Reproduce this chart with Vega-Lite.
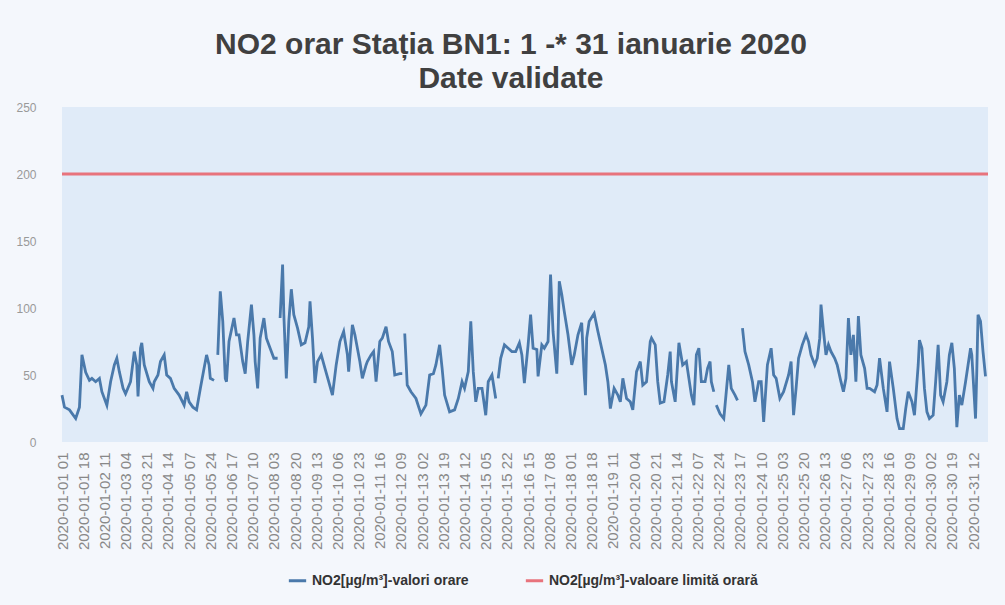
{
  "$schema": "https://vega.github.io/schema/vega-lite/v6.json",
  "width": 926,
  "height": 335,
  "autosize": "none",
  "padding": {"left": 62, "top": 107, "right": 17, "bottom": 163},
  "background": "#f4f7fc",
  "title": {
    "text": ["NO2 orar Stația BN1: 1 -* 31 ianuarie 2020", "Date validate"],
    "fontSize": 30,
    "font": "Liberation Sans",
    "fontWeight": "bold",
    "color": "#404040",
    "lineHeight": 34,
    "offset": 7,
    "anchor": "middle",
    "dx": -14
  },
  "config": {"view": {"fill": "#e0ebf8", "stroke": null}},
  "encoding": {
    "x": {
      "field": "h",
      "type": "quantitative",
      "scale": {"domain": [1, 744], "nice": false, "zero": false},
      "axis": {
        "title": null,
        "values": [1,18,35,52,69,86,103,120,137,154,171,188,205,222,239,256,273,290,307,324,341,358,375,392,409,426,443,460,477,494,511,528,545,562,579,596,613,630,647,664,681,698,715,732],
        "labelExpr": "'2020-01-' + pad('' + (floor((datum.value - 1) / 24) + 1), 2, '0', 'left') + ' ' + pad('' + ((datum.value - 1) % 24 + 1), 2, '0', 'left')",
        "labelAngle": 270,
        "domain": false,
        "ticks": false,
        "grid": false,
        "labelColor": "#888888",
        "labelFontSize": 15,
        "labelFont": "Liberation Sans",
        "labelPadding": 10,
        "labelOverlap": false,
        "labelBound": false,
        "labelFlush": false
      }
    },
    "y": {
      "field": "v",
      "type": "quantitative",
      "scale": {"domain": [0, 250], "nice": false},
      "axis": {
        "title": null,
        "values": [0, 50, 100, 150, 200, 250],
        "domain": false,
        "ticks": false,
        "grid": false,
        "labelColor": "#999999",
        "labelFontSize": 12,
        "labelFont": "Liberation Sans",
        "labelPadding": 26
      }
    },
    "color": {
      "scale": {
        "domain": ["NO2[µg/m³]-valori orare", "NO2[µg/m³]-valoare limită orară"],
        "range": ["#4a79ab", "#e8737c"]
      },
      "legend": {
        "orient": "none",
        "legendX": 225,
        "legendY": 463,
        "direction": "horizontal",
        "title": null,
        "labelFontSize": 14,
        "labelFont": "Liberation Sans",
        "labelFontWeight": "bold",
        "labelColor": "#333333",
        "labelLimit": 0,
        "symbolStrokeWidth": 3,
        "symbolSize": 300,
        "columnPadding": 50
      }
    }
  },
  "layer": [
    {
      "data": {"values": [{"h": 1, "v": 200}, {"h": 744, "v": 200}]},
      "mark": {"type": "line", "strokeWidth": 3},
      "encoding": {"color": {"datum": "NO2[µg/m³]-valoare limită orară"}}
    },
    {
      "data": {"values": [
        {"h":1,"v":35},{"h":3,"v":26},{"h":7,"v":24},{"h":12,"v":17.5},{"h":15,"v":26},{"h":17,"v":65},{"h":20,"v":52},{"h":23,"v":46},{"h":25,"v":47.5},{"h":28,"v":45},{"h":31,"v":47.5},{"h":33,"v":37.5},{"h":37,"v":27.5},{"h":40,"v":45},{"h":43,"v":57.5},{"h":45,"v":62.5},{"h":47,"v":52.5},{"h":50,"v":40},{"h":52,"v":36},{"h":56,"v":45},{"h":59,"v":67.5},{"h":61,"v":57.5},{"h":62,"v":34},{"h":64,"v":70},{"h":65,"v":74},{"h":67,"v":57.5},{"h":71,"v":45},{"h":74,"v":40},{"h":75,"v":45},{"h":78,"v":50},{"h":80,"v":60},{"h":83,"v":65},{"h":85,"v":50},{"h":88,"v":47.5},{"h":91,"v":40},{"h":95,"v":35},{"h":99,"v":27.5},{"h":101,"v":37.5},{"h":103,"v":30},{"h":106,"v":26},{"h":109,"v":24},{"h":112,"v":40},{"h":115,"v":55},{"h":117,"v":65},{"h":119,"v":57.5},{"h":120,"v":47.5},{"h":123,"v":46},{"h":125,"v":null},
        {"h":126,"v":65},{"h":128,"v":112.5},{"h":130,"v":90},{"h":132,"v":47.5},{"h":133,"v":45},{"h":135,"v":75},{"h":139,"v":92.5},{"h":141,"v":80},{"h":143,"v":80},{"h":146,"v":60},{"h":148,"v":51},{"h":150,"v":75},{"h":153,"v":102.5},{"h":155,"v":80},{"h":156,"v":60},{"h":158,"v":40},{"h":160,"v":77.5},{"h":163,"v":92.5},{"h":165,"v":77.5},{"h":168,"v":70},{"h":171,"v":62.5},{"h":174,"v":62.5},{"h":175,"v":null},
        {"h":176,"v":92.5},{"h":178,"v":132.5},{"h":179,"v":95},{"h":181,"v":47.5},{"h":183,"v":90},{"h":185,"v":114},{"h":187,"v":95},{"h":190,"v":85},{"h":193,"v":72.5},{"h":196,"v":74},{"h":199,"v":86},{"h":200,"v":105},{"h":202,"v":77.5},{"h":204,"v":44},{"h":206,"v":60},{"h":209,"v":65},{"h":212,"v":55},{"h":215,"v":45},{"h":218,"v":35},{"h":221,"v":57.5},{"h":224,"v":75},{"h":227,"v":82.5},{"h":230,"v":65},{"h":231,"v":52.5},{"h":234,"v":87.5},{"h":236,"v":80},{"h":240,"v":60},{"h":242,"v":47.5},{"h":245,"v":57.5},{"h":246,"v":60},{"h":249,"v":65},{"h":251,"v":67.5},{"h":253,"v":45},{"h":256,"v":75},{"h":258,"v":77.5},{"h":261,"v":86},{"h":263,"v":75},{"h":266,"v":67.5},{"h":268,"v":50},{"h":272,"v":51},{"h":274,"v":51},{"h":275,"v":null},
        {"h":276,"v":81},{"h":278,"v":42.5},{"h":281,"v":37.5},{"h":285,"v":32.5},{"h":289,"v":21},{"h":293,"v":27.5},{"h":296,"v":50},{"h":299,"v":51},{"h":301,"v":57.5},{"h":304,"v":72.5},{"h":306,"v":55},{"h":308,"v":35},{"h":312,"v":22.5},{"h":316,"v":24},{"h":319,"v":32.5},{"h":322,"v":45},{"h":324,"v":40},{"h":327,"v":52.5},{"h":329,"v":90},{"h":331,"v":52.5},{"h":333,"v":30},{"h":335,"v":40},{"h":338,"v":40},{"h":341,"v":20},{"h":343,"v":45},{"h":346,"v":50},{"h":349,"v":32.5},{"h":350,"v":null},
        {"h":351,"v":47.5},{"h":353,"v":62.5},{"h":356,"v":72.5},{"h":359,"v":70},{"h":362,"v":67.5},{"h":365,"v":67.5},{"h":368,"v":74},{"h":370,"v":65},{"h":372,"v":44},{"h":375,"v":72.5},{"h":377,"v":95},{"h":379,"v":70},{"h":382,"v":69},{"h":383,"v":49},{"h":386,"v":72.5},{"h":388,"v":70},{"h":391,"v":75},{"h":393,"v":125},{"h":395,"v":82.5},{"h":398,"v":51},{"h":399,"v":77.5},{"h":400,"v":120},{"h":402,"v":110},{"h":404,"v":97.5},{"h":407,"v":80},{"h":410,"v":57.5},{"h":412,"v":65},{"h":415,"v":80},{"h":418,"v":89},{"h":420,"v":50},{"h":421,"v":35},{"h":422,"v":77.5},{"h":424,"v":90},{"h":428,"v":96},{"h":431,"v":82.5},{"h":434,"v":70},{"h":437,"v":57.5},{"h":439,"v":45},{"h":441,"v":25},{"h":444,"v":40},{"h":447,"v":35},{"h":449,"v":30},{"h":451,"v":47.5},{"h":454,"v":32.5},{"h":457,"v":30},{"h":459,"v":24},{"h":462,"v":52.5},{"h":465,"v":60},{"h":467,"v":42.5},{"h":470,"v":45},{"h":473,"v":75},{"h":474,"v":77.5},{"h":477,"v":72.5},{"h":479,"v":45},{"h":481,"v":29},{"h":484,"v":30},{"h":487,"v":50},{"h":489,"v":67.5},{"h":490,"v":45},{"h":493,"v":30},{"h":496,"v":74},{"h":499,"v":57.5},{"h":502,"v":60},{"h":504,"v":47.5},{"h":506,"v":35},{"h":508,"v":27.5},{"h":510,"v":65},{"h":512,"v":70},{"h":514,"v":45},{"h":517,"v":45},{"h":519,"v":55},{"h":521,"v":60},{"h":522,"v":45},{"h":524,"v":37.5},{"h":525,"v":null},
        {"h":526,"v":27.5},{"h":529,"v":21},{"h":532,"v":17.5},{"h":534,"v":37.5},{"h":536,"v":57.5},{"h":538,"v":40},{"h":541,"v":35},{"h":543,"v":31},{"h":545,"v":null},
        {"h":547,"v":85},{"h":549,"v":67.5},{"h":552,"v":57.5},{"h":555,"v":45},{"h":557,"v":30},{"h":560,"v":45},{"h":562,"v":45},{"h":564,"v":15},{"h":567,"v":57.5},{"h":570,"v":70},{"h":572,"v":50},{"h":574,"v":47.5},{"h":577,"v":32.5},{"h":580,"v":37.5},{"h":584,"v":50},{"h":586,"v":60},{"h":588,"v":20},{"h":590,"v":40},{"h":592,"v":62.5},{"h":595,"v":72.5},{"h":598,"v":80},{"h":600,"v":75},{"h":602,"v":65},{"h":605,"v":57.5},{"h":607,"v":62.5},{"h":609,"v":77.5},{"h":610,"v":102.5},{"h":612,"v":82.5},{"h":614,"v":65},{"h":616,"v":72.5},{"h":618,"v":67.5},{"h":621,"v":62.5},{"h":623,"v":57.5},{"h":626,"v":45},{"h":628,"v":37.5},{"h":630,"v":47.5},{"h":632,"v":92.5},{"h":634,"v":65},{"h":636,"v":80},{"h":638,"v":45},{"h":640,"v":94},{"h":642,"v":65},{"h":645,"v":55},{"h":647,"v":40},{"h":649,"v":40},{"h":653,"v":37.5},{"h":655,"v":42.5},{"h":657,"v":62.5},{"h":660,"v":40},{"h":663,"v":22.5},{"h":665,"v":60},{"h":668,"v":40},{"h":671,"v":17.5},{"h":673,"v":10},{"h":676,"v":10},{"h":678,"v":25},{"h":680,"v":37.5},{"h":683,"v":30},{"h":685,"v":20},{"h":688,"v":57.5},{"h":689,"v":76},{"h":691,"v":70},{"h":693,"v":40},{"h":695,"v":22.5},{"h":697,"v":17.5},{"h":700,"v":20},{"h":702,"v":45},{"h":704,"v":72.5},{"h":706,"v":35},{"h":708,"v":30},{"h":711,"v":45},{"h":713,"v":65},{"h":715,"v":74},{"h":717,"v":55},{"h":719,"v":11},{"h":721,"v":35},{"h":723,"v":27.5},{"h":726,"v":45},{"h":728,"v":57.5},{"h":730,"v":70},{"h":731,"v":65},{"h":734,"v":17.5},{"h":735,"v":52.5},{"h":736,"v":95},{"h":738,"v":90},{"h":740,"v":67.5},{"h":742,"v":49}
      ]},
      "mark": {"type": "line", "strokeWidth": 2.8},
      "encoding": {"color": {"datum": "NO2[µg/m³]-valori orare"}}
    }
  ]
}
